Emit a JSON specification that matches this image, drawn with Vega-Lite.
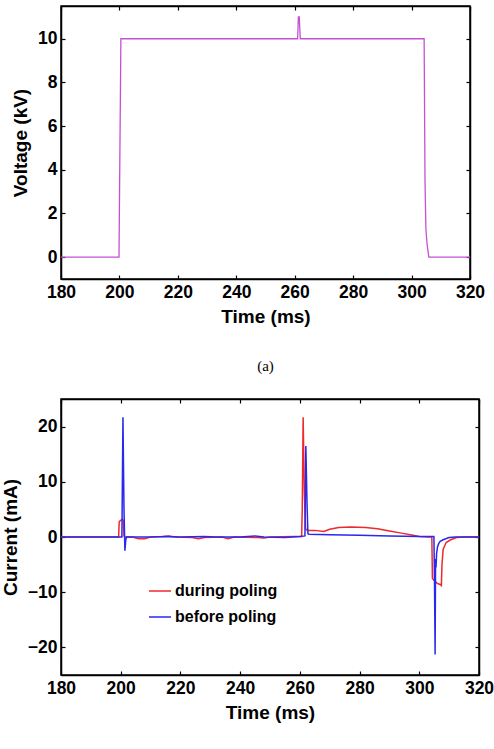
{
  "$schema": "https://vega.github.io/schema/vega-lite/v6.json",
  "padding": {"left": 0, "top": 4, "right": 2, "bottom": 5},
  "background": "white",
  "datasets": {
    "voltage": [
      {"t": 180, "kv": 0}, {"t": 199.85, "kv": 0}, {"t": 200.5, "kv": 10},
      {"t": 261.0, "kv": 10}, {"t": 261.25, "kv": 11}, {"t": 261.55, "kv": 11}, {"t": 261.9, "kv": 10},
      {"t": 304.3, "kv": 10}, {"t": 304.6, "kv": 3.5}, {"t": 304.9, "kv": 1.3}, {"t": 305.3, "kv": 0.6},
      {"t": 305.9, "kv": 0}, {"t": 320, "kv": 0}
    ],
    "current": [
      {"t": 180, "ma": 0, "run": "during poling"},
      {"t": 190, "ma": 0, "run": "during poling"},
      {"t": 199.3, "ma": 0, "run": "during poling"},
      {"t": 199.5, "ma": 2.8, "run": "during poling"},
      {"t": 200.0, "ma": 3.0, "run": "during poling"},
      {"t": 200.6, "ma": 3.2, "run": "during poling"},
      {"t": 200.9, "ma": 3.0, "run": "during poling"},
      {"t": 201.1, "ma": 0.2, "run": "during poling"},
      {"t": 201.5, "ma": 0, "run": "during poling"},
      {"t": 204, "ma": 0, "run": "during poling"},
      {"t": 206, "ma": -0.3, "run": "during poling"},
      {"t": 208, "ma": -0.3, "run": "during poling"},
      {"t": 210, "ma": 0, "run": "during poling"},
      {"t": 214, "ma": 0.1, "run": "during poling"},
      {"t": 216, "ma": 0.2, "run": "during poling"},
      {"t": 218, "ma": 0, "run": "during poling"},
      {"t": 224, "ma": -0.1, "run": "during poling"},
      {"t": 226, "ma": -0.3, "run": "during poling"},
      {"t": 228, "ma": -0.1, "run": "during poling"},
      {"t": 234, "ma": 0, "run": "during poling"},
      {"t": 236, "ma": -0.3, "run": "during poling"},
      {"t": 238, "ma": 0, "run": "during poling"},
      {"t": 246, "ma": -0.1, "run": "during poling"},
      {"t": 248, "ma": -0.2, "run": "during poling"},
      {"t": 250, "ma": 0, "run": "during poling"},
      {"t": 258, "ma": 0.1, "run": "during poling"},
      {"t": 260.6, "ma": 0.1, "run": "during poling"},
      {"t": 260.8, "ma": 5, "run": "during poling"},
      {"t": 261.1, "ma": 21.7, "run": "during poling"},
      {"t": 261.5, "ma": 8, "run": "during poling"},
      {"t": 261.9, "ma": 1.5, "run": "during poling"},
      {"t": 262.5, "ma": 1.2, "run": "during poling"},
      {"t": 265, "ma": 1.2, "run": "during poling"},
      {"t": 268, "ma": 1.0, "run": "during poling"},
      {"t": 270, "ma": 1.4, "run": "during poling"},
      {"t": 273, "ma": 1.7, "run": "during poling"},
      {"t": 277, "ma": 1.8, "run": "during poling"},
      {"t": 282, "ma": 1.7, "run": "during poling"},
      {"t": 286, "ma": 1.5, "run": "during poling"},
      {"t": 290, "ma": 1.1, "run": "during poling"},
      {"t": 294, "ma": 0.7, "run": "during poling"},
      {"t": 297, "ma": 0.4, "run": "during poling"},
      {"t": 300, "ma": 0.1, "run": "during poling"},
      {"t": 303, "ma": 0, "run": "during poling"},
      {"t": 304.2, "ma": 0, "run": "during poling"},
      {"t": 304.4, "ma": -7.5, "run": "during poling"},
      {"t": 305.2, "ma": -8.0, "run": "during poling"},
      {"t": 306, "ma": -8.4, "run": "during poling"},
      {"t": 307, "ma": -8.6, "run": "during poling"},
      {"t": 307.4, "ma": -8.8, "run": "during poling"},
      {"t": 307.6, "ma": -5, "run": "during poling"},
      {"t": 308, "ma": -2.2, "run": "during poling"},
      {"t": 309, "ma": -1.0, "run": "during poling"},
      {"t": 310.5, "ma": -0.5, "run": "during poling"},
      {"t": 312.5, "ma": -0.1, "run": "during poling"},
      {"t": 315, "ma": 0, "run": "during poling"},
      {"t": 320, "ma": 0, "run": "during poling"},
      {"t": 180, "ma": 0, "run": "before poling"},
      {"t": 195, "ma": 0, "run": "before poling"},
      {"t": 200.4, "ma": 0, "run": "before poling"},
      {"t": 200.75, "ma": 21.7, "run": "before poling"},
      {"t": 201.1, "ma": 5, "run": "before poling"},
      {"t": 201.4, "ma": -2.5, "run": "before poling"},
      {"t": 201.7, "ma": -0.5, "run": "before poling"},
      {"t": 202, "ma": 0, "run": "before poling"},
      {"t": 210, "ma": 0, "run": "before poling"},
      {"t": 216, "ma": 0.1, "run": "before poling"},
      {"t": 220, "ma": 0, "run": "before poling"},
      {"t": 228, "ma": 0.1, "run": "before poling"},
      {"t": 232, "ma": 0, "run": "before poling"},
      {"t": 240, "ma": 0, "run": "before poling"},
      {"t": 245, "ma": 0.2, "run": "before poling"},
      {"t": 248, "ma": 0, "run": "before poling"},
      {"t": 255, "ma": -0.1, "run": "before poling"},
      {"t": 260, "ma": 0.1, "run": "before poling"},
      {"t": 261.7, "ma": 0.2, "run": "before poling"},
      {"t": 262.0, "ma": 16.5, "run": "before poling"},
      {"t": 262.4, "ma": 6, "run": "before poling"},
      {"t": 262.7, "ma": 0.6, "run": "before poling"},
      {"t": 263, "ma": 0.5, "run": "before poling"},
      {"t": 270, "ma": 0.4, "run": "before poling"},
      {"t": 280, "ma": 0.3, "run": "before poling"},
      {"t": 290, "ma": 0.2, "run": "before poling"},
      {"t": 300, "ma": 0.1, "run": "before poling"},
      {"t": 304.9, "ma": 0.1, "run": "before poling"},
      {"t": 305.1, "ma": -8, "run": "before poling"},
      {"t": 305.3, "ma": -21.3, "run": "before poling"},
      {"t": 305.45, "ma": -4, "run": "before poling"},
      {"t": 305.6, "ma": -5.5, "run": "before poling"},
      {"t": 305.8, "ma": -3, "run": "before poling"},
      {"t": 306.1, "ma": -1.8, "run": "before poling"},
      {"t": 306.5, "ma": -1.2, "run": "before poling"},
      {"t": 307, "ma": -0.8, "run": "before poling"},
      {"t": 308, "ma": -0.5, "run": "before poling"},
      {"t": 310, "ma": -0.1, "run": "before poling"},
      {"t": 312, "ma": 0, "run": "before poling"},
      {"t": 320, "ma": 0, "run": "before poling"}
    ]
  },
  "spacing": 22,
  "resolve": {"legend": {"color": "independent"}},
  "vconcat": [
    {
      "width": 409,
      "height": 273,
      "data": {"name": "voltage"},
      "title": {"text": "(a)", "orient": "bottom", "font": "Liberation Serif", "fontSize": 15, "fontWeight": "normal", "color": "black", "offset": 32, "anchor": "middle"},
      "layer": [
        {
          "mark": {"type": "line", "color": "#c64fd6", "strokeWidth": 1.3},
          "encoding": {
            "x": {"field": "t", "type": "quantitative", "scale": {"domain": [180, 320], "nice": false},
                  "axis": {"orient": "bottom", "values": [180, 200, 220, 240, 260, 280, 300, 320], "title": "Time (ms)"}},
            "y": {"field": "kv", "type": "quantitative", "scale": {"domain": [-1, 11.5], "nice": false, "zero": false},
                  "axis": {"orient": "left", "values": [0, 2, 4, 6, 8, 10], "title": "Voltage (kV)"}}
          }
        },
        {
          "mark": {"type": "line", "strokeOpacity": 0},
          "encoding": {
            "x": {"field": "t", "type": "quantitative", "axis": {"orient": "top", "values": [180, 200, 220, 240, 260, 280, 300, 320], "labels": false, "title": null}},
            "y": {"field": "kv", "type": "quantitative", "axis": {"orient": "right", "values": [0, 2, 4, 6, 8, 10], "labels": false, "title": null}}
          }
        }
      ],
      "resolve": {"axis": {"x": "independent", "y": "independent"}}
    },
    {
      "width": 418,
      "height": 276,
      "data": {"name": "current"},
      "layer": [
        {
          "mark": {"type": "line", "strokeWidth": 1.5},
          "encoding": {
            "x": {"field": "t", "type": "quantitative", "scale": {"domain": [180, 320], "nice": false},
                  "axis": {"orient": "bottom", "values": [180, 200, 220, 240, 260, 280, 300, 320], "title": "Time (ms)"}},
            "y": {"field": "ma", "type": "quantitative", "scale": {"domain": [-25, 25], "nice": false},
                  "axis": {"orient": "left", "values": [-20, -10, 0, 10, 20], "title": "Current (mA)"}},
            "color": {"field": "run", "type": "nominal",
                      "scale": {"domain": ["during poling", "before poling"], "range": ["#f02828", "#2828f0"]},
                      "legend": {"title": null, "orient": "none", "legendX": 87, "legendY": 180, "symbolType": "stroke", "symbolSize": 484, "symbolStrokeWidth": 1.5, "labelFont": "Liberation Sans", "labelFontWeight": "bold", "labelFontSize": 16, "labelColor": "black", "labelOffset": 3, "rowPadding": 6, "padding": 0}}
          }
        },
        {
          "mark": {"type": "line", "strokeOpacity": 0},
          "encoding": {
            "x": {"field": "t", "type": "quantitative", "axis": {"orient": "top", "values": [180, 200, 220, 240, 260, 280, 300, 320], "labels": false, "title": null}},
            "y": {"field": "ma", "type": "quantitative", "axis": {"orient": "right", "values": [-20, -10, 0, 10, 20], "labels": false, "title": null}}
          }
        }
      ],
      "resolve": {"axis": {"x": "independent", "y": "independent"}}
    }
  ],
  "config": {
    "view": {"stroke": "black", "strokeWidth": 1.5},
    "axis": {
      "grid": false,
      "labelFlush": false,
      "domainColor": "black",
      "domainWidth": 1.5,
      "tickColor": "black",
      "tickWidth": 1.2,
      "tickSize": -4,
      "labelPadding": 8,
      "labelFont": "Liberation Sans",
      "labelFontWeight": "bold",
      "labelFontSize": 17.5,
      "labelColor": "black",
      "titleFont": "Liberation Sans",
      "titleFontWeight": "bold",
      "titleFontSize": 19,
      "titleColor": "black",
      "titlePadding": 7
    }
  }
}
